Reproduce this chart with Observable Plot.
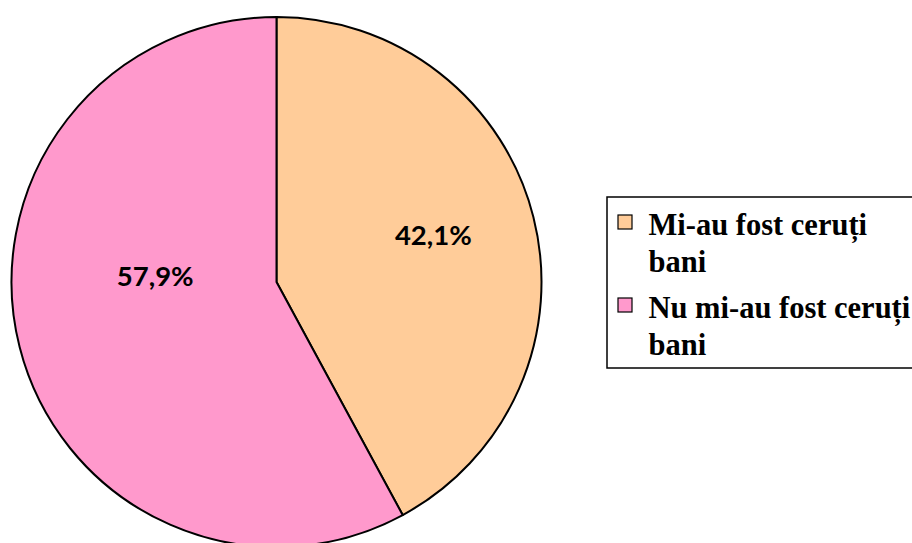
<!DOCTYPE html>
<html><head><meta charset="utf-8">
<script src="https://cdn.jsdelivr.net/npm/d3@7"></script>
<script src="https://cdn.jsdelivr.net/npm/@observablehq/plot@0.6"></script>
<style>
html,body{margin:0;padding:0;background:#fff;overflow:hidden}
.legtext text{font-family:"Liberation Serif","Times New Roman",serif !important}
.pielab text{font-family:Lato,"Open Sans",sans-serif !important}
</style>
</head><body><div id="chart"></div>
<script>
// ---- data ----
const categories = ["Mi-au fost ceruți bani", "Nu mi-au fost ceruți bani"];
const values = [42.1, 57.9];
const valueLabels = ["42,1%", "57,9%"];
const colors = ["#FFCC99", "#FF99CC"];

// ---- layout ----
const W = 912, H = 543;
const CX = 276.5, CY = 282, R = 265;
const labelAngleShift = [-2.2, 16.6];   // degrees
const labelRadius = [0.615, 0.46];      // fraction of R

const slices = categories.map((c, i) => ({category: c, value: values[i], label: valueLabels[i]}));
const arcs = d3.pie().sort(null).value(d => d.value)(slices);

const labelPts = arcs.map((a, i) => {
  const ang = (a.startAngle + a.endAngle) / 2 + labelAngleShift[i] * Math.PI / 180;
  const r = labelRadius[i] * R;
  return {x: CX + r * Math.sin(ang), y: CY - r * Math.cos(ang), text: a.data.label};
});

function pieMark(index, scales) {
  const g = d3.create("svg:g");
  const x0 = scales.x(CX), y0 = scales.y(CY);
  const arc = d3.arc().innerRadius(0).outerRadius(scales.x(CX + R) - x0);
  g.selectAll("path").data(arcs).join("path")
    .attr("transform", `translate(${x0},${y0})`)
    .attr("d", arc)
    .attr("fill", d => scales.color(d.data.category))
    .attr("stroke", "#000")
    .attr("stroke-width", 2)
    .attr("stroke-linejoin", "round");
  return g.node();
}

const wrap = s => { const k = s.lastIndexOf(" "); return s.slice(0, k) + "\n" + s.slice(k + 1); };
const LEG = {left: 607, top: 197, bottom: 368, sw: 618, swSize: 14, swTop: 215, step: 83, tx: 648, ty: 208.5};

const chart = Plot.plot({
  width: W, height: H, margin: 0,
  x: {domain: [0, W], range: [0, W], axis: null},
  y: {domain: [0, H], range: [0, H], axis: null},
  color: {domain: categories, range: colors, type: "ordinal"},
  style: {background: "white", overflow: "hidden"},
  marks: [
    pieMark,
    Plot.text(labelPts, {x: "x", y: "y", text: "text", fontSize: 27.5, fontWeight: "bold",
      fill: "#000", textAnchor: "middle", lineAnchor: "middle"}),
    Plot.rect([0], {x1: LEG.left, x2: W + 10, y1: LEG.top, y2: LEG.bottom, fill: "white", stroke: "#000", strokeWidth: 1.5}),
    Plot.rect(categories, {x1: LEG.sw, x2: LEG.sw + LEG.swSize,
      y1: (d, i) => LEG.swTop + i * LEG.step, y2: (d, i) => LEG.swTop + i * LEG.step + LEG.swSize,
      fill: d => d, stroke: "#000", strokeWidth: 1.2}),
    Plot.text(categories, {x: LEG.tx, y: (d, i) => LEG.ty + i * LEG.step, text: d => wrap(d),
      textAnchor: "start", lineAnchor: "top", lineHeight: 1.2, fontSize: 30.5, fontWeight: "bold", fill: "#000"})
  ]
});
const textGroups = chart.querySelectorAll('g[aria-label="text"]');
textGroups[0].classList.add("pielab");
textGroups[1].classList.add("legtext");
document.getElementById("chart").append(chart);
</script></body></html>
